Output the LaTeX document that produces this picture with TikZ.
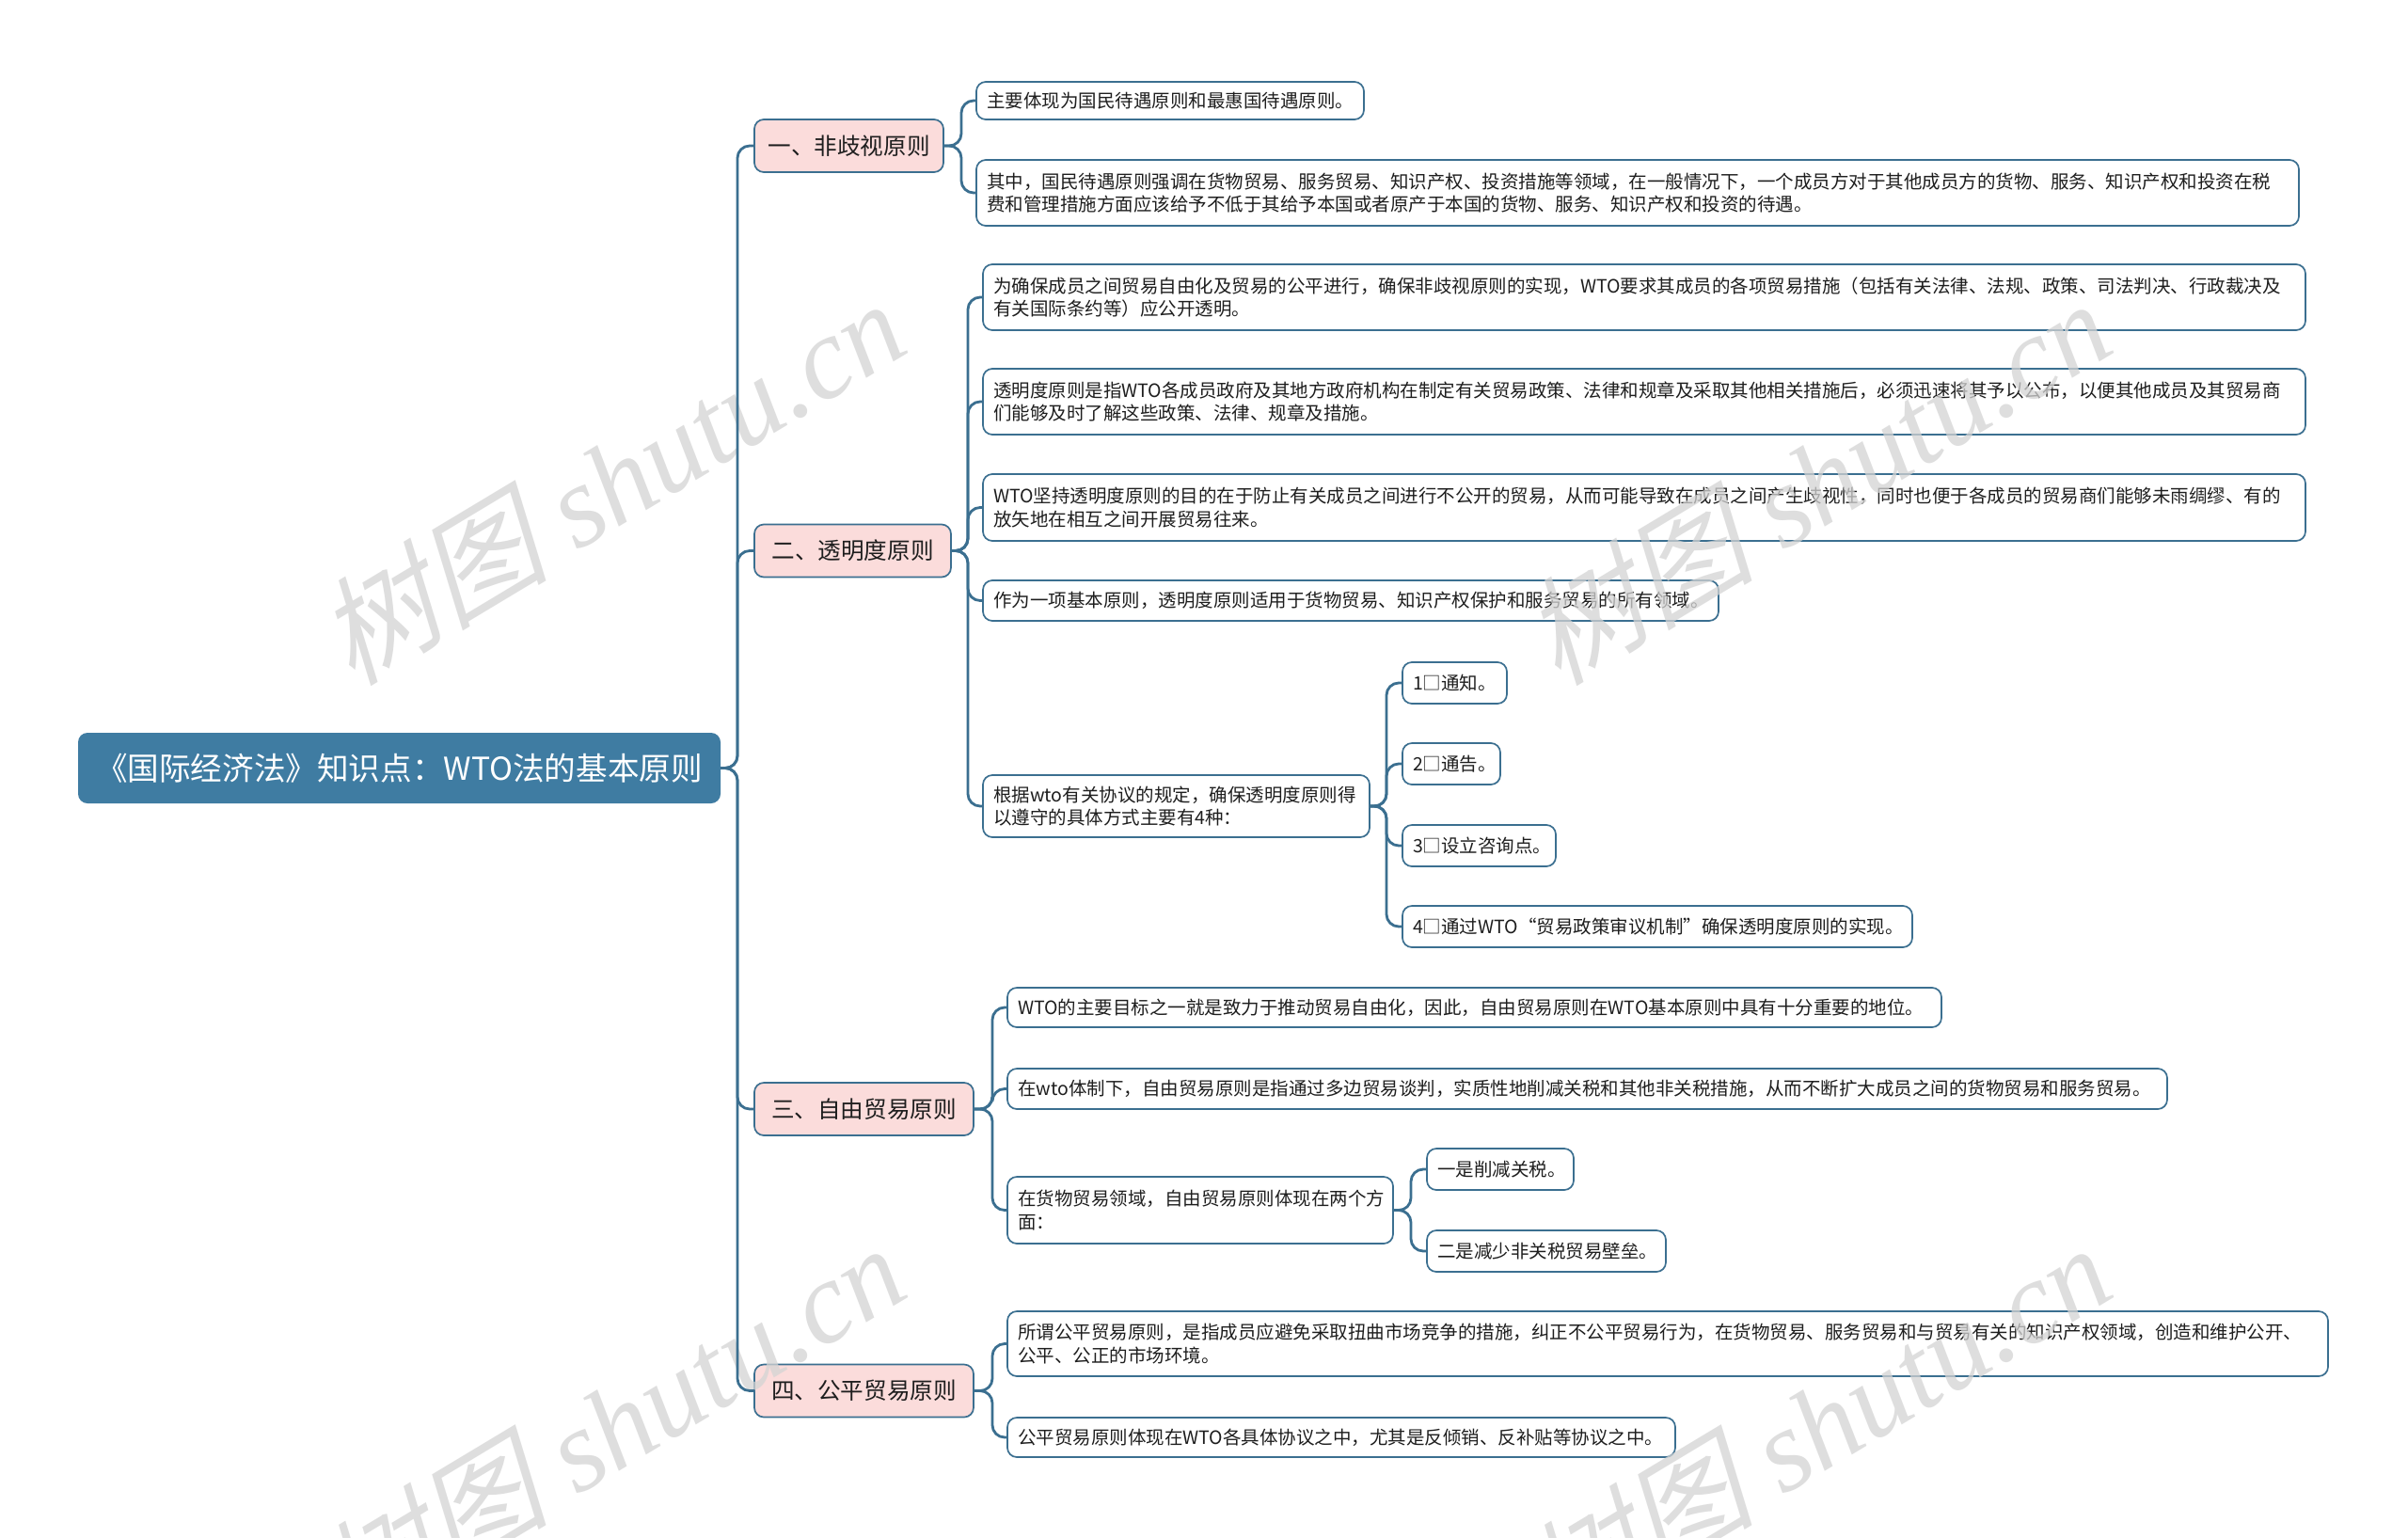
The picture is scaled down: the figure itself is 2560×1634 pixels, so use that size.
\documentclass[tikz,border=0pt]{standalone}
\usepackage{fontspec}
\newfontfamily\cjk{Noto Sans CJK SC}
\newfontfamily\wmcjk[FakeSlant=0.25]{Noto Sans CJK SC}
\newfontfamily\wmlat{Liberation Serif}
\definecolor{rootc}{HTML}{3F7CA2}
\definecolor{pinkc}{HTML}{FBDCDB}
\definecolor{linec}{HTML}{3B6F90}
\definecolor{txtc}{HTML}{1E1E1E}
\definecolor{wmc}{HTML}{D4D4D4}
\tikzset{
  rootbox/.style={fill=rootc, rounded corners=5pt, text=white,
    font=\cjk\fontsize{16.8}{20}\selectfont, minimum width=341.5pt,
    minimum height=37.5pt, inner sep=0pt, outer sep=0pt, anchor=west},
  lvlbox/.style={fill=pinkc, draw=linec, line width=0.85pt, rounded corners=5pt,
    text=txtc, font=\cjk\fontsize{12.3}{15}\selectfont, minimum height=28pt,
    inner sep=0pt, outer sep=0pt, anchor=west},
  leaf/.style={fill=white, draw=linec, line width=0.85pt, rounded corners=5pt,
    text=txtc, font=\cjk\fontsize{9.75}{12.3}\selectfont, align=left,
    inner xsep=5.5pt, inner ysep=0pt, outer sep=0pt, anchor=west},
  conn/.style={draw=linec, line width=1.4pt, rounded corners=6.5pt},
  wm/.style={text=wmc, opacity=0.75, rotate=31, inner sep=0pt}
}
\begin{document}
\begin{tikzpicture}[x=0.5pt,y=-0.5pt]
\useasboundingbox[fill=white] (0,0) rectangle (2560,1634);

% root
\node[rootbox] (root) at (83,816.5) {《国际经济法》知识点：WTO法的基本原则};

% level 1
\node[lvlbox, minimum width=100.5pt] (n1) at (802,155) {一、非歧视原则};
\node[lvlbox, minimum width=104.5pt] (n2) at (802,585.5) {二、透明度原则};
\node[lvlbox, minimum width=116.5pt] (n3) at (802,1179) {三、自由贸易原则};
\node[lvlbox, minimum width=116.5pt] (n4) at (802,1478.5) {四、公平贸易原则};

% branch 1
\node[leaf, text width=195pt, minimum height=20pt] (a1) at (1038,107) {主要体现为国民待遇原则和最惠国待遇原则。};
\node[leaf, text width=692pt, minimum height=35pt] (a2) at (1038,205) {其中，国民待遇原则强调在货物贸易、服务贸易、知识产权、投资措施等领域，在一般情况下，一个成员方对于其他成员方的货物、服务、知识产权和投资在税\\费和管理措施方面应该给予不低于其给予本国或者原产于本国的货物、服务、知识产权和投资的待遇。};

% branch 2
\node[leaf, text width=692pt, minimum height=35pt] (b1) at (1045,316) {为确保成员之间贸易自由化及贸易的公平进行，确保非歧视原则的实现，WTO要求其成员的各项贸易措施（包括有关法律、法规、政策、司法判决、行政裁决及\\有关国际条约等）应公开透明。};
\node[leaf, text width=692pt, minimum height=35pt] (b2) at (1045,427) {透明度原则是指WTO各成员政府及其地方政府机构在制定有关贸易政策、法律和规章及采取其他相关措施后，必须迅速将其予以公布，以便其他成员及其贸易商\\们能够及时了解这些政策、法律、规章及措施。};
\node[leaf, text width=692pt, minimum height=35.5pt] (b3) at (1045,539.5) {WTO坚持透明度原则的目的在于防止有关成员之间进行不公开的贸易，从而可能导致在成员之间产生歧视性，同时也便于各成员的贸易商们能够未雨绸缪、有的\\放矢地在相互之间开展贸易往来。};
\node[leaf, text width=380pt, minimum height=21.5pt] (b4) at (1045,638.5) {作为一项基本原则，透明度原则适用于货物贸易、知识产权保护和服务贸易的所有领域。};
\node[leaf, text width=194.5pt, minimum height=33pt] (b5) at (1045,857) {根据wto有关协议的规定，确保透明度原则得\\以遵守的具体方式主要有4种：};
\node[leaf, text width=44.5pt, minimum height=22pt] (c1) at (1491,726) {1□通知。};
\node[leaf, text width=41pt, minimum height=22pt] (c2) at (1491,812) {2□通告。};
\node[leaf, text width=70.5pt, minimum height=22pt] (c3) at (1491,899) {3□设立咨询点。};
\node[leaf, text width=260pt, minimum height=22pt] (c4) at (1491,985) {4□通过WTO“贸易政策审议机制”确保透明度原则的实现。};

% branch 3
\node[leaf, text width=485.5pt, minimum height=21pt] (d1) at (1071,1071) {WTO的主要目标之一就是致力于推动贸易自由化，因此，自由贸易原则在WTO基本原则中具有十分重要的地位。};
\node[leaf, text width=605.5pt, minimum height=21.5pt] (d2) at (1071,1157.5) {在wto体制下，自由贸易原则是指通过多边贸易谈判，实质性地削减关税和其他非关税措施，从而不断扩大成员之间的货物贸易和服务贸易。};
\node[leaf, text width=194pt, minimum height=35.5pt] (d3) at (1071,1286.5) {在货物贸易领域，自由贸易原则体现在两个方\\面：};
\node[leaf, text width=67pt, minimum height=22pt] (e1) at (1517,1243) {一是削减关税。};
\node[leaf, text width=116pt, minimum height=22pt] (e2) at (1517,1330) {二是减少非关税贸易壁垒。};

% branch 4
\node[leaf, text width=691pt, minimum height=34.5pt] (f1) at (1071,1428.5) {所谓公平贸易原则，是指成员应避免采取扭曲市场竞争的措施，纠正不公平贸易行为，在货物贸易、服务贸易和与贸易有关的知识产权领域，创造和维护公开、\\公平、公正的市场环境。};
\node[leaf, text width=344pt, minimum height=21pt] (f2) at (1071,1528) {公平贸易原则体现在WTO各具体协议之中，尤其是反倾销、反补贴等协议之中。};

% watermarks
\foreach \wx/\wy [count=\i] in {648/511, 1930/511, 648/1515, 1930/1515}{
  \node[wm] (wm\i) at (\wx,\wy) {\fontsize{62}{66}\selectfont{\wmcjk 树图}\wmlat\itshape\ shutu.cn};
}

% connectors
\foreach \c in {n1,n2,n3,n4}{
  \draw[conn] (root.east) -- ++(18,0) |- (\c.west);
}
\foreach \c in {a1,a2}{
  \draw[conn] (n1.east) -- ++(19,0) |- (\c.west);
}
\foreach \c in {b1,b2,b3,b4,b5}{
  \draw[conn] (n2.east) -- ++(18,0) |- (\c.west);
}
\foreach \c in {c1,c2,c3,c4}{
  \draw[conn] (b5.east) -- ++(18,0) |- (\c.west);
}
\foreach \c in {d1,d2,d3}{
  \draw[conn] (n3.east) -- ++(20,0) |- (\c.west);
}
\foreach \c in {e1,e2}{
  \draw[conn] (d3.east) -- ++(19,0) |- (\c.west);
}
\foreach \c in {f1,f2}{
  \draw[conn] (n4.east) -- ++(20,0) |- (\c.west);
}
\end{tikzpicture}
\end{document}
